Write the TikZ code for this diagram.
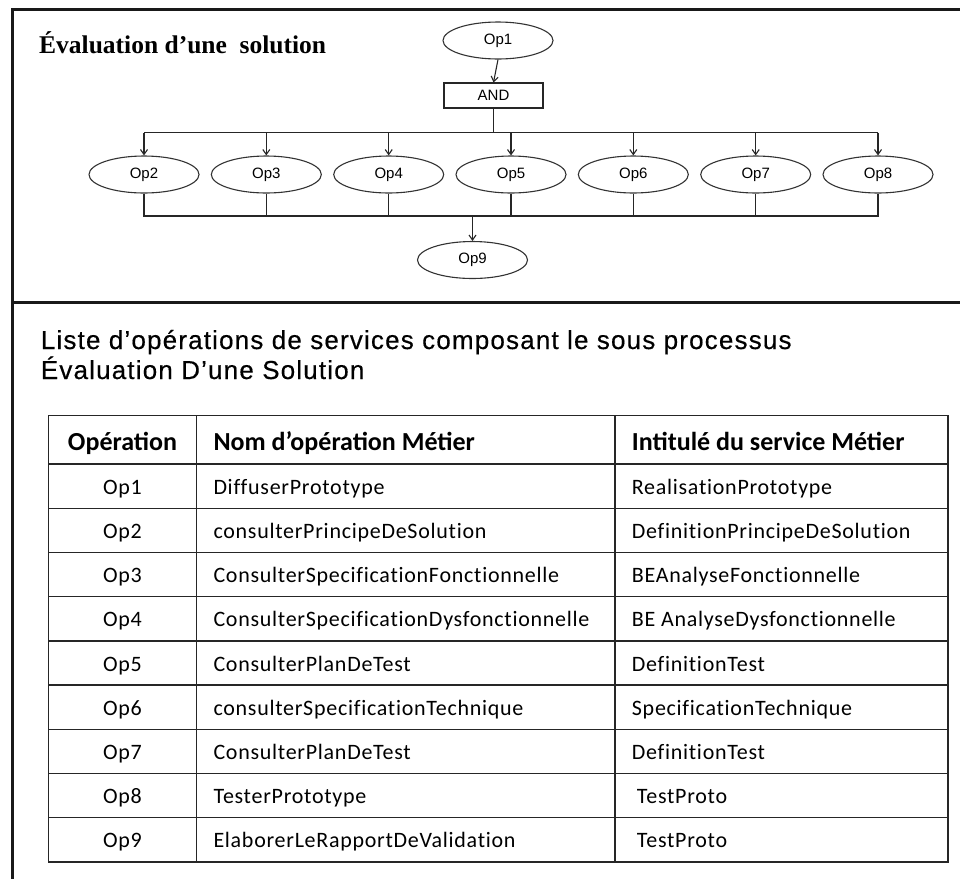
\documentclass[tikz,border=0pt]{standalone}
\usepackage{fontspec}
\setmainfont{Liberation Serif}
\newfontfamily\arialf{Liberation Sans}
\newfontfamily\headf[LetterSpace=4.5,FakeBold=0.4]{Liberation Sans}
\newfontfamily\bodyf[LetterSpace=3.3,Ligatures=NoCommon]{Carlito}
\newfontfamily\thf{Carlito}
\usetikzlibrary{shapes.geometric,arrows.meta}
\begin{document}
\begin{tikzpicture}[x=1pt,y=-1pt,
  op/.style={ellipse, draw=black!80, line width=1.1pt, minimum width=110pt, minimum height=37pt, inner sep=0pt, font=\arialf\fontsize{15}{18}\selectfont},
  gate/.style={rectangle, draw=black!85, line width=1.1pt, minimum width=99pt, minimum height=25pt, inner sep=0pt, font=\arialf\fontsize{15}{18}\selectfont},
  conn/.style={draw=black!85, line width=1.1pt},
  arr/.style={conn, -{Straight Barb[length=5pt,width=7pt]}},
  frame/.style={line width=3.5pt, draw=black!90},
  grid/.style={line width=1.4pt, draw=black!85},
  cell/.style={font=\bodyf\fontsize{22}{26}\selectfont, inner sep=0pt},
  hcell/.style={font=\thf\bfseries\fontsize{26}{30}\selectfont, inner sep=0pt},
]
\useasboundingbox (0,0) rectangle (960,879);
\fill[white] (0,0) rectangle (960,879);
% frame
\draw[frame] (960,9.5) -- (12.5,9.5) -- (12.5,879);
\draw[frame] (12.5,302.5) -- (960,302.5);
% title
\node[anchor=base west, inner sep=0pt, font=\bfseries\fontsize{25.5}{30}\selectfont] (title) at (39,53) {Évaluation d’une\ \ solution};
% graph
\node[op] (op1) at (498,40.5) {Op1};
\node[gate] (and) at (493.5,95.5) {AND};
\foreach \i/\x in {2/144,3/266.3,4/388.7,5/511,6/633.3,7/755.7,8/878}
  \node[op] (op\i) at (\x,174.5) {Op\i};
\node[op] (op9) at (472.5,260) {Op9};
\draw[arr] (op1.south) -- (and.north);
\coordinate (bus) at (493.5,132.5);
\coordinate (bot) at (472.5,216);
\draw[conn] (and.south) -- (bus);
\draw[conn] (op2.north |- bus) -- (op8.north |- bus);
\foreach \i in {2,...,8}
  \draw[arr] (op\i.north |- bus) -- (op\i.north);
\draw[conn] (op2.south) -- (op2.south |- bot) -- (op8.south |- bot) -- (op8.south);
\foreach \i in {3,...,7}
  \draw[conn] (op\i.south) -- (op\i.south |- bot);
\draw[arr] (bot) -- (op9.north);
% heading
\node[anchor=base west, inner sep=0pt, font=\headf\fontsize{26}{30}\selectfont] (h1) at (40.7,349) {Liste d’opérations de services composant le sous processus};
\node[anchor=base west, inner sep=0pt, font=\headf\fontsize{26}{30}\selectfont] (h2) at (40.7,379) {Évaluation D’une Solution};
% table
\draw[grid] (48.3,415.5) rectangle (948,862);
\foreach \k in {0,...,8}
  \draw[grid] (48.3,{464+44.222*\k}) -- (948,{464+44.222*\k});
\draw[grid] (196.7,415.5) -- (196.7,862);
\draw[grid] (615,415.5) -- (615,862);
\node[hcell, anchor=base] (th1) at (122.5,450) {Opération};
\node[hcell, anchor=base west] (th2) at (213.3,450) {Nom d’opération Métier};
\node[hcell, anchor=base west] (th3) at (631.7,450) {Intitulé du service Métier};
\foreach \k/\a/\b/\c in {
  1/Op1/DiffuserPrototype/RealisationPrototype,
  2/Op2/consulterPrincipeDeSolution/DefinitionPrincipeDeSolution,
  3/Op3/ConsulterSpecificationFonctionnelle/BEAnalyseFonctionnelle,
  4/Op4/ConsulterSpecificationDysfonctionnelle/BE AnalyseDysfonctionnelle,
  5/Op5/ConsulterPlanDeTest/DefinitionTest,
  6/Op6/consulterSpecificationTechnique/SpecificationTechnique,
  7/Op7/ConsulterPlanDeTest/DefinitionTest,
  8/Op8/TesterPrototype/{\hspace*{5pt}TestProto},
  9/Op9/ElaborerLeRapportDeValidation/{\hspace*{5pt}TestProto}}
{
  \pgfmathsetmacro{\yb}{464+44.222*(\k-0.5)+8}
  \node[cell, anchor=base] (ca\k) at (122.5,\yb) {\a};
  \node[cell, anchor=base west] (cb\k) at (213.3,\yb) {\b};
  \node[cell, anchor=base west] (cc\k) at (631.7,\yb) {\c};
}
\end{tikzpicture}
\end{document}
